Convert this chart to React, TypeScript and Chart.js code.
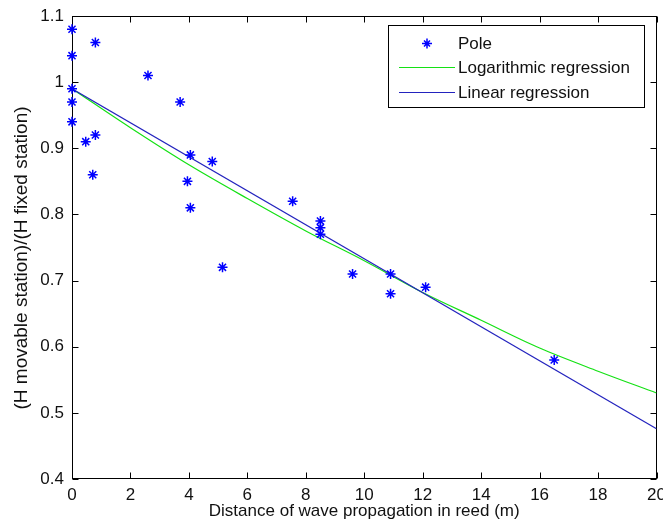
import React, { useEffect, useRef } from "react";
import { Chart, registerables } from "chart.js";

Chart.register(...registerables);

// ---- data ----
const poleX = [0, 0, 0, 0, 0, 0.47, 0.71, 0.8, 0.8, 2.6, 3.7, 3.95, 4.05, 4.05, 4.8, 5.15, 7.55, 8.5, 8.5, 8.5, 9.6, 10.9, 10.9, 12.1, 16.5];
const poleY = [1.08, 1.04, 0.99, 0.97, 0.94, 0.91, 0.86, 0.92, 1.06, 1.01, 0.97, 0.85, 0.89, 0.81, 0.88, 0.72, 0.82, 0.79, 0.78, 0.77, 0.71, 0.71, 0.68, 0.69, 0.58];

const logX = [0, 2, 4, 6, 8, 10, 12, 14, 16, 18, 20];
const logY = [0.99, 0.931, 0.875, 0.824, 0.775, 0.73, 0.682, 0.64, 0.598, 0.563, 0.53];

const linX = [0, 20];
const linY = [0.99, 0.476];

const xTicks = [0, 2, 4, 6, 8, 10, 12, 14, 16, 18, 20];
const xTickLabels = ["0", "2", "4", "6", "8", "10", "12", "14", "16", "18", "20"];
const yTicks = [0.4, 0.5, 0.6, 0.7, 0.8, 0.9, 1.0, 1.1];
const yTickLabels = ["0.4", "0.5", "0.6", "0.7", "0.8", "0.9", "1", "1.1"];

const seriesLabels = ["Pole", "Logarithmic regression", "Linear regression"];
const xTitle = "Distance of wave propagation in reed (m)";
const yTitle = "(H movable station)/(H fixed station)";

const FONT = "'Liberation Sans', Arial, Helvetica, sans-serif";
const POLE_COLOR = "rgb(0,0,255)";
const LOG_COLOR = "rgb(20,225,20)";
const LIN_COLOR = "rgb(35,35,190)";

function drawStar(ctx: CanvasRenderingContext2D, x: number, y: number, r: number) {
  const d = r * 0.6;
  ctx.beginPath();
  ctx.moveTo(x - r, y);
  ctx.lineTo(x + r, y);
  ctx.moveTo(x, y - r);
  ctx.lineTo(x, y + r);
  ctx.moveTo(x - d, y - d);
  ctx.lineTo(x + d, y + d);
  ctx.moveTo(x - d, y + d);
  ctx.lineTo(x + d, y - d);
  ctx.stroke();
}

const axesPlugin = {
  id: "matlabAxes",
  beforeDatasetsDraw(chart: any) {
    const { ctx, chartArea, scales } = chart;
    const x = scales.x;
    const y = scales.y;
    const L = Math.round(chartArea.left) + 0.5;
    const R = Math.round(chartArea.right) - 0.5;
    const T = Math.round(chartArea.top) + 0.5;
    const B = Math.round(chartArea.bottom) - 0.5;
    const tl = 6;
    ctx.save();
    ctx.strokeStyle = "#000";
    ctx.lineWidth = 1;
    ctx.strokeRect(L, T, R - L, B - T);
    ctx.beginPath();
    x.ticks.forEach((t: any) => {
      const px = Math.round(x.getPixelForValue(t.value)) + 0.5;
      ctx.moveTo(px, B);
      ctx.lineTo(px, B - tl);
      ctx.moveTo(px, T);
      ctx.lineTo(px, T + tl);
    });
    y.ticks.forEach((t: any) => {
      const py = Math.round(y.getPixelForValue(t.value)) + 0.5;
      ctx.moveTo(L, py);
      ctx.lineTo(L + tl, py);
      ctx.moveTo(R, py);
      ctx.lineTo(R - tl, py);
    });
    ctx.stroke();
    ctx.restore();
  },
  afterDraw(chart: any) {
    const { ctx } = chart;
    ctx.save();
    // y-axis title
    ctx.fillStyle = "#111";
    ctx.font = `19px ${FONT}`;
    ctx.textAlign = "center";
    ctx.textBaseline = "middle";
    ctx.translate(22, 258);
    ctx.rotate(-Math.PI / 2);
    ctx.fillText(yTitle, 0, 0);
    ctx.restore();

    // legend
    const ds = chart.data.datasets;
    const bx = 388.5, by = 25.5, bw = 256, bh = 82;
    ctx.save();
    ctx.fillStyle = "#fff";
    ctx.fillRect(bx, by, bw, bh);
    ctx.strokeStyle = "#000";
    ctx.lineWidth = 1;
    ctx.strokeRect(bx, by, bw, bh);
    const rows = [43, 67, 92];
    ctx.font = `17px ${FONT}`;
    ctx.textAlign = "left";
    ctx.textBaseline = "middle";
    ds.forEach((d: any, i: number) => {
      const yy = rows[i] + 0.5;
      if (i === 0) {
        ctx.strokeStyle = d.borderColor;
        ctx.lineWidth = 1.5;
        drawStar(ctx, 427, yy, 5);
      } else {
        ctx.strokeStyle = d.borderColor;
        ctx.lineWidth = 1;
        ctx.beginPath();
        ctx.moveTo(399, yy);
        ctx.lineTo(455, yy);
        ctx.stroke();
      }
      ctx.fillStyle = "#111";
      ctx.fillText(d.label, 458, rows[i] + 1);
    });
    ctx.restore();
  },
};

export default function App() {
  const ref = useRef<HTMLCanvasElement | null>(null);

  useEffect(() => {
    if (!ref.current) return;
    const chart = new Chart(ref.current, {
      type: "scatter",
      data: {
        datasets: [
          {
            label: seriesLabels[0],
            data: poleX.map((v, i) => ({ x: v, y: poleY[i] })),
            pointStyle: "star",
            pointRadius: 5,
            borderColor: POLE_COLOR,
            backgroundColor: POLE_COLOR,
            pointBorderWidth: 1.5,
            showLine: false,
            clip: false,
            order: 0,
          },
          {
            label: seriesLabels[1],
            data: logX.map((v, i) => ({ x: v, y: logY[i] })),
            showLine: true,
            borderColor: LOG_COLOR,
            backgroundColor: LOG_COLOR,
            borderWidth: 1.2,
            pointRadius: 0,
            cubicInterpolationMode: "monotone",
            order: 2,
          },
          {
            label: seriesLabels[2],
            data: linX.map((v, i) => ({ x: v, y: linY[i] })),
            showLine: true,
            borderColor: LIN_COLOR,
            backgroundColor: LIN_COLOR,
            borderWidth: 1.2,
            pointRadius: 0,
            order: 1,
          },
        ],
      } as any,
      options: {
        animation: false,
        responsive: false,
        devicePixelRatio: 1,
        layout: { padding: { top: 16, right: 6, left: 0, bottom: 0 } },
        plugins: {
          legend: { display: false },
          tooltip: { enabled: false },
        },
        scales: {
          x: {
            type: "linear",
            min: 0,
            max: 20,
            grid: { display: false, drawTicks: false },
            border: { display: false },
            afterBuildTicks: (s: any) => {
              s.ticks = xTicks.map((v) => ({ value: v }));
            },
            afterFit: (s: any) => {
              s.height = 50;
              s.paddingLeft = 0;
              s.paddingRight = 0;
            },
            ticks: {
              autoSkip: false,
              maxRotation: 0,
              padding: 6,
              color: "#111",
              font: { family: FONT, size: 17 },
              callback: (_v: any, i: number) => xTickLabels[i],
            },
            title: {
              display: true,
              text: xTitle,
              color: "#111",
              font: { family: FONT, size: 17 },
              padding: { top: 0, bottom: 7 },
            },
          },
          y: {
            type: "linear",
            min: 0.4,
            max: 1.1,
            grid: { display: false, drawTicks: false },
            border: { display: false },
            afterBuildTicks: (s: any) => {
              s.ticks = yTicks.map((v) => ({ value: v }));
            },
            afterFit: (s: any) => {
              s.width = 72;
              s.paddingTop = 0;
              s.paddingBottom = 0;
            },
            ticks: {
              autoSkip: false,
              padding: 8,
              color: "#111",
              font: { family: FONT, size: 17 },
              callback: (_v: any, i: number) => yTickLabels[i],
            },
          },
        },
      } as any,
      plugins: [axesPlugin],
    });
    return () => chart.destroy();
  }, []);

  return (
    <canvas
      ref={ref}
      width={663}
      height={529}
      style={{ position: "absolute", left: 0, top: 0, width: 663, height: 529 }}
    />
  );
}
